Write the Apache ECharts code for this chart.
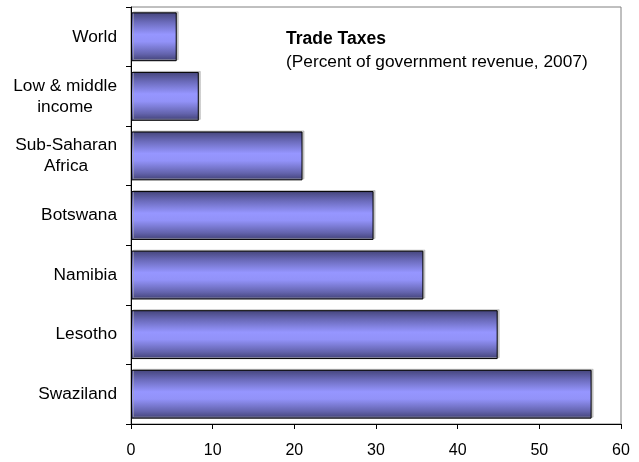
<!DOCTYPE html>
<html>
<head>
<meta charset="utf-8">
<script src="https://cdn.jsdelivr.net/npm/echarts@6/dist/echarts.min.js"></script>
<style>html,body{margin:0;padding:0;background:#fff}#c{width:639px;height:462px}</style>
</head>
<body>
<div id="c"></div>
<script>
var categories = ["World", "Low & middle\nincome", "Sub-Saharan\nAfrica", "Botswana", "Namibia", "Lesotho", "Swaziland"];
var values = [5.6, 8.3, 21.0, 29.7, 35.8, 44.9, 56.4];
var xTicks = [0, 10, 20, 30, 40, 50, 60];
var titleText = "Trade Taxes";
var subText = "(Percent of government revenue, 2007)";

var chart = echarts.init(document.getElementById('c'), null, {renderer: 'canvas'});
var font = 'Arial, "Liberation Sans", sans-serif';
chart.setOption({
  animation: false,
  backgroundColor: '#ffffff',
  title: {
    text: titleText,
    subtext: subText,
    left: 286,
    top: 30,
    padding: 0,
    itemGap: 5,
    textStyle: {fontFamily: font, fontSize: 17.5, fontWeight: 'bold', color: '#000', lineHeight: 18},
    subtextStyle: {fontFamily: font, fontSize: 17.3, color: '#000', lineHeight: 18}
  },
  grid: {left: 131, right: 18, top: 7, bottom: 38, show: true, borderColor: '#808080', borderWidth: 1},
  xAxis: {
    type: 'value', min: xTicks[0], max: xTicks[xTicks.length - 1], interval: 10,
    axisLine: {show: true, lineStyle: {color: '#000', width: 1}},
    axisTick: {show: true, length: 5, lineStyle: {color: '#000'}},
    splitLine: {show: false},
    axisLabel: {fontFamily: font, fontSize: 16, color: '#000', margin: 19}
  },
  yAxis: {
    type: 'category', data: categories, inverse: true,
    axisLine: {show: true, lineStyle: {color: '#000', width: 1}},
    axisTick: {show: true, length: 5, lineStyle: {color: '#000'}},
    axisLabel: {
      margin: 14,
      formatter: function (v) { return v.split('\n').map(function (s) { return '{c|' + s + '}'; }).join('\n'); },
      rich: {c: {fontFamily: font, fontSize: 17.3, color: '#000', lineHeight: 21, align: 'center'}}
    }
  },
  series: [{
    type: 'bar',
    data: values,
    barWidth: '82%',
    itemStyle: {
      borderColor: '#000', borderWidth: 1,
      shadowColor: 'rgba(170,170,170,0.6)', shadowBlur: 0, shadowOffsetX: 2, shadowOffsetY: -1,
      color: {
        type: 'linear', x: 0, y: 0, x2: 0, y2: 1,
        colorStops: [
          {offset: 0, color: '#44447a'},
          {offset: 0.2, color: '#6b6bbb'},
          {offset: 0.45, color: '#9696ff'},
          {offset: 0.6, color: '#9292f8'},
          {offset: 0.85, color: '#6464ae'},
          {offset: 1, color: '#404074'}
        ]
      }
    }
  }]
});
</script>
</body>
</html>
